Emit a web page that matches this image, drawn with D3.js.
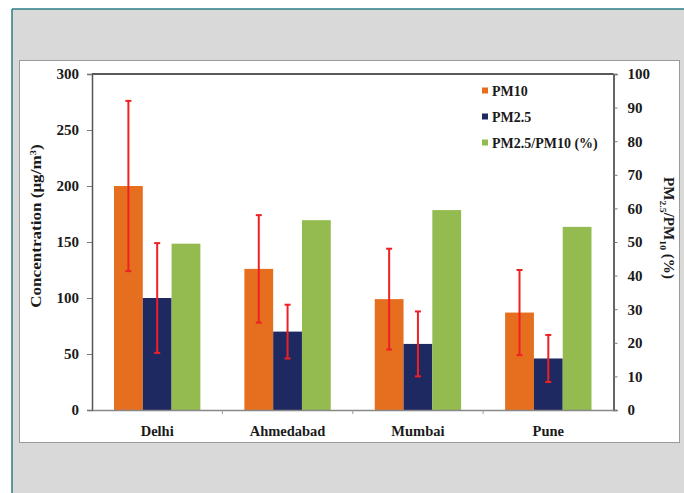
<!DOCTYPE html>
<html>
<head>
<meta charset="utf-8">
<script src="https://cdn.jsdelivr.net/npm/d3@7"></script>
<style>
  html, body { margin: 0; padding: 0; background: #fff; }
  svg { display: block; }
  text { font-family: "Liberation Serif", "Times New Roman", serif; font-weight: bold; fill: #1a1a1a; }
</style>
</head>
<body>
<svg id="chart" width="684" height="493"></svg>
<script>
// City-level particulate matter: means with standard deviations, plus PM2.5/PM10 ratio
const cities = ["Delhi", "Ahmedabad", "Mumbai", "Pune"];
const pm10 = [200, 126, 99, 87];
const pm10Err = [76, 48, 45, 38];
const pm25 = [100, 70, 59, 46];
const pm25Err = [49, 24, 29, 21];
const ratio = [49.5, 56.5, 59.5, 54.5];
const leftTicks = [0, 50, 100, 150, 200, 250, 300];
const rightTicks = [0, 10, 20, 30, 40, 50, 60, 70, 80, 90, 100];
const seriesNames = ["PM10", "PM2.5", "PM2.5/PM10 (%)"];
const colors = ["#e66f1f", "#1f2961", "#93bb50"];

const svg = d3.select("#chart");

// Panel background
svg.append("rect").attr("x", 12).attr("y", 9).attr("width", 672).attr("height", 484).attr("fill", "#d9d9d9");
svg.append("line").attr("x1", 12).attr("x2", 684).attr("y1", 9).attr("y2", 9).attr("stroke", "#2f7c86").attr("stroke-width", 1.5);
svg.append("line").attr("x1", 12).attr("x2", 12).attr("y1", 9).attr("y2", 493).attr("stroke", "#2f7c86").attr("stroke-width", 1.5);
svg.append("rect").attr("x", 19.5).attr("y", 60.5).attr("width", 660).attr("height", 382)
  .attr("fill", "#fff").attr("stroke", "#9a9a9a").attr("stroke-width", 1);

const plot = { left: 92, right: 613.5, top: 74, bottom: 410 };

const x = d3.scaleBand().domain(cities).range([plot.left, plot.right]).paddingInner(0).paddingOuter(0);
const inner = d3.scaleBand().domain(seriesNames).range([22, x.bandwidth() - 22]).padding(0);
const yL = d3.scaleLinear().domain([0, 300]).range([plot.bottom, plot.top]);
const yR = d3.scaleLinear().domain([0, 100]).range([plot.bottom, plot.top]);

// Bars
const rows = cities.map((c, i) => ({ city: c, vals: [
  { s: seriesNames[0], v: pm10[i], err: pm10Err[i], scale: yL, color: colors[0] },
  { s: seriesNames[1], v: pm25[i], err: pm25Err[i], scale: yL, color: colors[1] },
  { s: seriesNames[2], v: ratio[i], err: null, scale: yR, color: colors[2] }
]}));

const g = svg.append("g");
const groups = g.selectAll("g.city").data(rows).join("g")
  .attr("class", "city")
  .attr("transform", d => `translate(${x(d.city)},0)`);

groups.selectAll("rect").data(d => d.vals).join("rect")
  .attr("x", d => inner(d.s))
  .attr("width", inner.bandwidth())
  .attr("y", d => d.scale(d.v))
  .attr("height", d => plot.bottom - d.scale(d.v))
  .attr("fill", d => d.color);

// Error bars
const errs = groups.selectAll("g.err").data(d => d.vals.filter(v => v.err != null)).join("g").attr("class", "err");
errs.append("line")
  .attr("x1", d => inner(d.s) + inner.bandwidth() / 2)
  .attr("x2", d => inner(d.s) + inner.bandwidth() / 2)
  .attr("y1", d => d.scale(d.v + d.err))
  .attr("y2", d => d.scale(d.v - d.err))
  .attr("stroke", "#ee2024").attr("stroke-width", 2);
[1, -1].forEach(sign => {
  errs.append("line")
    .attr("x1", d => inner(d.s) + inner.bandwidth() / 2 - 3)
    .attr("x2", d => inner(d.s) + inner.bandwidth() / 2 + 3)
    .attr("y1", d => d.scale(d.v + sign * d.err))
    .attr("y2", d => d.scale(d.v + sign * d.err))
    .attr("stroke", "#ee2024").attr("stroke-width", 2);
});

// Frame top line
svg.append("line").attr("x1", plot.left).attr("x2", plot.right).attr("y1", plot.top).attr("y2", plot.top)
  .attr("stroke", "#222").attr("stroke-width", 1.5);

// Left axis
const axL = svg.append("g").attr("transform", `translate(${plot.left},0)`)
  .call(d3.axisLeft(yL).tickValues(leftTicks).tickSize(5).tickPadding(8));
axL.select(".domain").attr("stroke", "#555").attr("stroke-width", 1.5);
axL.selectAll(".tick line").attr("stroke", "#777");
axL.selectAll("text").style("font-size", "15px").attr("fill", "#1a1a1a");

// Right axis
const axR = svg.append("g").attr("transform", `translate(${plot.right},0)`)
  .call(d3.axisRight(yR).tickValues(rightTicks).tickSize(4).tickPadding(10));
axR.select(".domain").attr("stroke", "#333").attr("stroke-width", 1.5);
axR.selectAll(".tick line").attr("stroke", "#777");
axR.selectAll("text").style("font-size", "15px").attr("fill", "#1a1a1a");

// Bottom axis with ticks between categories
const axB = svg.append("g").attr("transform", `translate(0,${plot.bottom})`)
  .call(d3.axisBottom(x).tickSize(0).tickPadding(16));
axB.select(".domain").attr("stroke", "#888").attr("stroke-width", 1.5);
axB.selectAll("text").style("font-size", "14.5px").attr("fill", "#1a1a1a");
axB.selectAll("line.sep").data(cities.slice(1)).join("line").attr("class", "sep")
  .attr("x1", d => x(d)).attr("x2", d => x(d))
  .attr("y1", 0).attr("y2", 4).attr("stroke", "#999");

// Axis titles
const tL = svg.append("text")
  .attr("transform", "translate(41,226) rotate(-90) scale(1.22,1)")
  .attr("text-anchor", "middle")
  .style("font-size", "14px");
tL.append("tspan").text("Concentration (μg/m");
tL.append("tspan").attr("dy", -5).style("font-size", "9px").text("3");
tL.append("tspan").attr("dy", 5).text(")");

const tR = svg.append("text")
  .attr("transform", "translate(664,228) rotate(90) scale(1.08,1)")
  .attr("text-anchor", "middle")
  .style("font-size", "14px");
tR.append("tspan").text("PM");
tR.append("tspan").attr("dy", 4).style("font-size", "9px").text("2.5");
tR.append("tspan").attr("dy", -4).text("/PM");
tR.append("tspan").attr("dy", 4).style("font-size", "9px").text("10");
tR.append("tspan").attr("dy", -4).text(" (%)");

// Legend
const leg = svg.append("g").attr("transform", "translate(482,0)");
const legY = [91, 117, 143];
seriesNames.forEach((n, i) => {
  leg.append("rect").attr("x", 0).attr("y", legY[i] - 3.5).attr("width", 6).attr("height", 6).attr("fill", colors[i]);
  leg.append("text").attr("x", 10).attr("y", legY[i] + 4.5).style("font-size", "14px").text(n);
});
</script>
</body>
</html>
